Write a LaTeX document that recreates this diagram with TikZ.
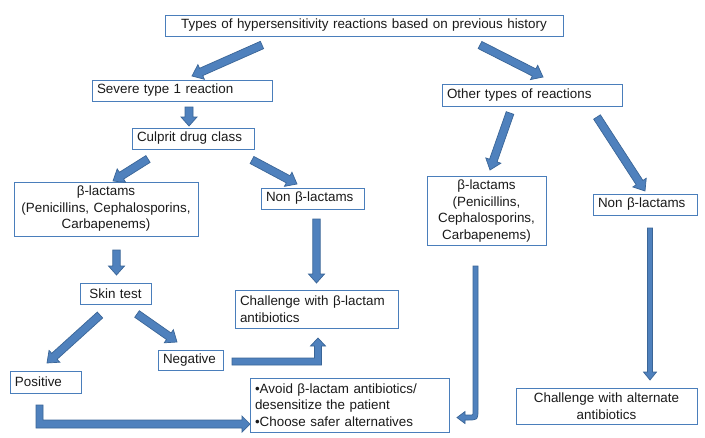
\documentclass[tikz,border=0pt]{standalone}
\usepackage{fontspec}
\setmainfont{Liberation Sans}
\usetikzlibrary{calc}
\definecolor{boxline}{HTML}{4A7EBB}
\definecolor{arrowfill}{HTML}{4F81BD}
\definecolor{arrowedge}{HTML}{3A6597}
\definecolor{txt}{HTML}{1A1A1A}
\tikzset{
  box/.style={draw=boxline, line width=0.8pt, inner xsep=5pt, inner ysep=1pt,
    font=\fontsize{13.4}{16.5}\selectfont, text=txt, anchor=center},
  lbox/.style={box, align=left},
  cbox/.style={box, align=center},
  blk/.style={fill=arrowfill, draw=arrowedge, line width=0.7pt, line join=miter},
}
% straight block arrow: #1 tail, #2 tip, #3 half shaft, #4 half head, #5 head length
\newcommand\barrow[5]{%
  \path[blk] let \p1=(#1), \p2=(#2), \n1={atan2(\y2-\y1,\x2-\x1)},
    \n2={veclen(\x2-\x1,\y2-\y1)-#5} in
    ($(#1)+(\n1+90:#3)$) -- ($(#1)+(\n1:\n2)+(\n1+90:#3)$)
    -- ($(#1)+(\n1:\n2)+(\n1+90:#4)$) -- (#2)
    -- ($(#1)+(\n1:\n2)+(\n1-90:#4)$) -- ($(#1)+(\n1:\n2)+(\n1-90:#3)$)
    -- ($(#1)+(\n1-90:#3)$) -- cycle;}
\begin{document}
\begin{tikzpicture}[x=1pt,y=1pt]
\useasboundingbox (0,0) rectangle (705,-437);
\fill[white] (0,0) rectangle (705,-437);

% boxes
\node[cbox, text width=388pt, minimum height=21pt] (top) at (364,-25.5)
  {Types of hypersensitivity reactions based on previous history};
\node[lbox, text width=170pt, minimum height=21pt] (severe) at (182,-90.5)
  {Severe type 1 reaction};
\node[lbox, text width=112pt, minimum height=21pt] (culprit) at (193,-138.5)
  {Culprit drug class};
\node[cbox, text width=174pt, minimum height=54pt] (bl) at (106,-209)
  {β-lactams\\(Penicillins, Cephalosporins,\\Carbapenems)};
\node[lbox, text width=93pt, minimum height=21pt] (nbl) at (312.5,-198.5)
  {Non β-lactams};
\node[lbox, text width=170pt, minimum height=22pt] (other) at (532,-95)
  {Other types of reactions};
\node[cbox, text width=109pt, minimum height=69pt] (br) at (486.5,-211)
  {β-lactams\\(Penicillins,\\Cephalosporins,\\Carbapenems)};
\node[lbox, text width=94pt, minimum height=21pt] (nbr) at (645,-204.5)
  {Non β-lactams};
\node[cbox, text width=61pt, minimum height=21pt] (skin) at (115.5,-293.5)
  {Skin test};
\node[lbox, text width=153pt, minimum height=38pt] (chal) at (316.5,-309)
  {Challenge with β-lactam\\antibiotics};
\node[lbox, text width=55pt, minimum height=20pt] (neg) at (190.5,-360.5)
  {Negative};
\node[lbox, text width=61pt, minimum height=22pt] (pos) at (45.5,-382)
  {Positive};
\node[lbox, text width=189pt, minimum height=54pt] (avoid) at (349.5,-405)
  {•Avoid β-lactam antibiotics/\\desensitize the patient\\•Choose safer alternatives};
\node[cbox, text width=171pt, minimum height=36pt] (alt) at (606.5,-406)
  {Challenge with alternate\\antibiotics};

% arrow end points
\coordinate (a1s) at (262,-45);    \coordinate (a1t) at (192,-76);
\coordinate (a2s) at (480,-45);    \coordinate (a2t) at (543,-77);
\coordinate (a3s) at (189,-107);   \coordinate (a3t) at (189,-126);
\coordinate (a4s) at (148,-159);   \coordinate (a4t) at (113,-181);
\coordinate (a5s) at (252,-160);   \coordinate (a5t) at (297,-184);
\coordinate (a6s) at (510,-113);   \coordinate (a6t) at (490,-170);
\coordinate (a7s) at (597,-117);   \coordinate (a7t) at (645,-191);
\coordinate (a8s) at (116.5,-250); \coordinate (a8t) at (116.5,-275);
\coordinate (a9s) at (316.5,-219); \coordinate (a9t) at (316.5,-283);
\coordinate (a10s) at (100,-315);  \coordinate (a10t) at (47,-363);
\coordinate (a11s) at (137,-314);  \coordinate (a11t) at (177,-342);
\coordinate (a15s) at (650,-228);  \coordinate (a15t) at (650,-380);

\barrow{a1s}{a1t}{4pt}{8pt}{10pt}
\barrow{a2s}{a2t}{4pt}{8pt}{10pt}
\barrow{a3s}{a3t}{4pt}{8pt}{9pt}
\barrow{a4s}{a4t}{4pt}{8pt}{10pt}
\barrow{a5s}{a5t}{4pt}{8pt}{10pt}
\barrow{a6s}{a6t}{4pt}{8pt}{10pt}
\barrow{a7s}{a7t}{4pt}{8pt}{10pt}
\barrow{a8s}{a8t}{3.7pt}{8pt}{9pt}
\barrow{a9s}{a9t}{3.7pt}{8pt}{9pt}
\barrow{a10s}{a10t}{4pt}{8pt}{10pt}
\barrow{a11s}{a11t}{4pt}{8pt}{10pt}
\barrow{a15s}{a15t}{2.5pt}{6.5pt}{8pt}

% elbow: Negative -> Challenge
\coordinate (e1s) at (232,-361.5); \coordinate (e1t) at (318,-338);
\path[blk] ($(e1s)+(0,3.5)$) -- ($(e1t|-e1s)+(-3.5,3.5)$) -- ($(e1t)+(-3.5,-8)$)
  -- ($(e1t)+(-7.5,-8)$) -- (e1t) -- ($(e1t)+(7.5,-8)$) -- ($(e1t)+(3.5,-8)$)
  -- ($(e1t|-e1s)+(3.5,-3.5)$) -- ($(e1s)+(0,-3.5)$) -- cycle;

% elbow: Positive -> Avoid
\coordinate (e2s) at (39.5,-405); \coordinate (e2t) at (250,-424);
\path[blk] ($(e2s)+(-3.5,0)$) -- ($(e2s)+(3.5,0)$) -- ($(e2s|-e2t)+(3.5,4)$)
  -- ($(e2t)+(-8,4)$) -- ($(e2t)+(-8,8)$) -- (e2t) -- ($(e2t)+(-8,-8)$)
  -- ($(e2t)+(-8,-4)$) -- ($(e2s|-e2t)+(-3.5,-4)$) -- cycle;

% curved: right beta-lactams -> Avoid
\coordinate (e3s) at (475.5,-266); \coordinate (e3t) at (457,-417.5);
\path[blk] ($(e3s)+(-2.5,0)$) -- ($(e3s)+(2.5,0)$) -- ($(e3s|-e3t)+(2.5,8)$)
  .. controls ($(e3s|-e3t)+(2.5,-2.5)$) .. ($(e3s|-e3t)+(-8,-2.5)$)
  -- ($(e3t)+(8,-2.5)$) -- ($(e3t)+(8,-6)$) -- (e3t) -- ($(e3t)+(8,6)$)
  -- ($(e3t)+(8,2.5)$) -- ($(e3s|-e3t)+(-4.5,2.5)$)
  .. controls ($(e3s|-e3t)+(-2.5,2.5)$) .. ($(e3s|-e3t)+(-2.5,4.5)$) -- cycle;
\end{tikzpicture}
\end{document}
